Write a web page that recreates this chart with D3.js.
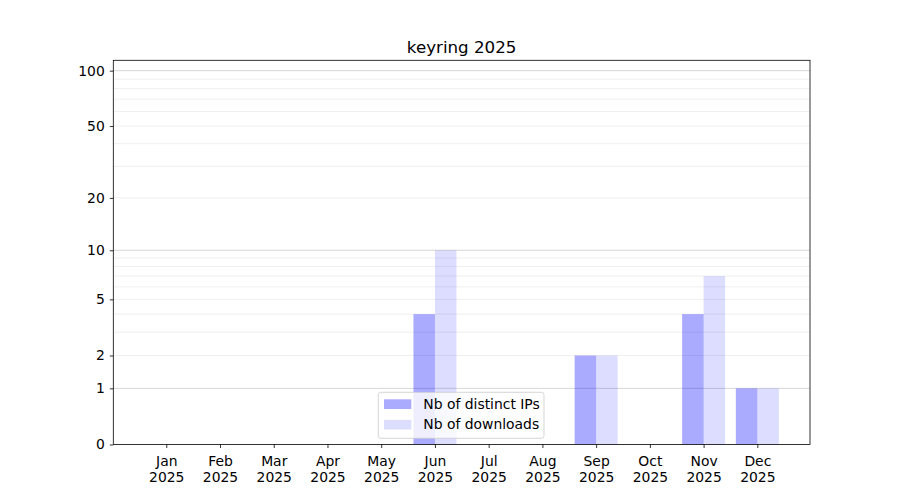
<!DOCTYPE html>
<html><head><meta charset="utf-8">
<script src="https://cdn.jsdelivr.net/npm/d3@7"></script>
<style>body{margin:0;background:#fff;} text{font-family:"DejaVu Sans",sans-serif;}</style>
</head><body>
<svg id="c" width="900" height="500"></svg>
<script>
const title = "keyring 2025";
const months = ["Jan","Feb","Mar","Apr","May","Jun","Jul","Aug","Sep","Oct","Nov","Dec"];
const yearLabel = "2025";
const distinctIPs = [0,0,0,0,0,4,0,0,2,0,4,1];
const downloads   = [0,0,0,0,0,10,0,0,2,0,7,1];
const yMajorTicks = [0,1,2,5,10,20,50,100];
const yMajorGrid = [1,10,100];
const yMinorGrid = [2,3,4,5,6,7,8,9,20,30,40,50,60,70,80,90];
const seriesNames = ["Nb of distinct IPs","Nb of downloads"];

const svg = d3.select("#c");
const L=113.3, R=810, T=60.3, B=444.5;
const FS = "13.9px";
const x = d3.scaleLinear().domain([-0.986, 11.98]).range([L,R]);
const y = d3.scaleSymlog().constant(1).domain([0,113.8]).range([B,T]);
const bw = x(0.4)-x(0);

// grid
svg.append("g").selectAll("line").data(yMinorGrid).join("line")
  .attr("x1",L).attr("x2",R).attr("y1",d=>y(d)).attr("y2",d=>y(d))
  .attr("stroke","#ebebeb").attr("stroke-width",0.8);
svg.append("g").selectAll("line").data(yMajorGrid).join("line")
  .attr("x1",L).attr("x2",R).attr("y1",d=>y(d)).attr("y2",d=>y(d))
  .attr("stroke","#cbcbcb").attr("stroke-width",0.8);

// bars
svg.append("g").selectAll("rect").data(distinctIPs).join("rect")
  .attr("x",(d,i)=>x(i-0.4)).attr("width",bw)
  .attr("y",d=>y(d)).attr("height",d=>B-y(d))
  .attr("fill","#0000ff").attr("fill-opacity",0.333);
svg.append("g").selectAll("rect").data(downloads).join("rect")
  .attr("x",(d,i)=>x(i)).attr("width",bw)
  .attr("y",d=>y(d)).attr("height",d=>B-y(d))
  .attr("fill","#0000ff").attr("fill-opacity",0.133);

// axes
const yAxis = d3.axisLeft(y).tickValues(yMajorTicks).tickFormat(d3.format("d")).tickSize(3.5).tickPadding(5);
const gy = svg.append("g").attr("transform",`translate(${L},0)`).call(yAxis);
gy.select(".domain").remove();
gy.selectAll("text").attr("font-size",FS).attr("fill","#000").style("font-family","DejaVu Sans");
gy.selectAll("line").attr("stroke","#000").attr("stroke-width",0.8);

const xAxis = d3.axisBottom(x).tickValues(d3.range(12)).tickFormat(()=>"").tickSize(3.5);
const gx = svg.append("g").attr("transform",`translate(0,${B})`).call(xAxis);
gx.select(".domain").remove();
gx.selectAll("line").attr("stroke","#000").attr("stroke-width",0.8);
gx.selectAll(".tick").each(function(d){
  const t = d3.select(this).append("text").attr("fill","#000").attr("font-size",FS)
    .attr("text-anchor","middle").style("font-family","DejaVu Sans");
  t.append("tspan").attr("x",0).attr("y",21.5).text(months[d]);
  t.append("tspan").attr("x",0).attr("y",37.5).text(yearLabel);
});

// frame
svg.append("rect").attr("x",L).attr("y",T).attr("width",R-L).attr("height",B-T)
  .attr("fill","none").attr("stroke","#000").attr("stroke-width",0.8);

// title
svg.append("text").attr("x",(L+R)/2).attr("y",52.5).attr("text-anchor","middle")
  .attr("font-size","16.7px").attr("fill","#000").text(title);

// legend
const lg = svg.append("g").attr("transform","translate(378.3,392.3)");
lg.append("rect").attr("width",165.7).attr("height",46).attr("rx",2.5)
  .attr("fill","#fff").attr("fill-opacity",0.8).attr("stroke","#cccccc").attr("stroke-width",0.8);
const lfill=[0.333,0.133];
seriesNames.forEach((n,i)=>{
  lg.append("rect").attr("x",5.7).attr("y",7+i*20.5).attr("width",27.3).attr("height",9.7)
    .attr("fill","#0000ff").attr("fill-opacity",lfill[i]);
  lg.append("text").attr("x",45).attr("y",16.3+i*20.8).attr("font-size",FS).attr("fill","#000").text(n);
});
</script>
</body></html>
